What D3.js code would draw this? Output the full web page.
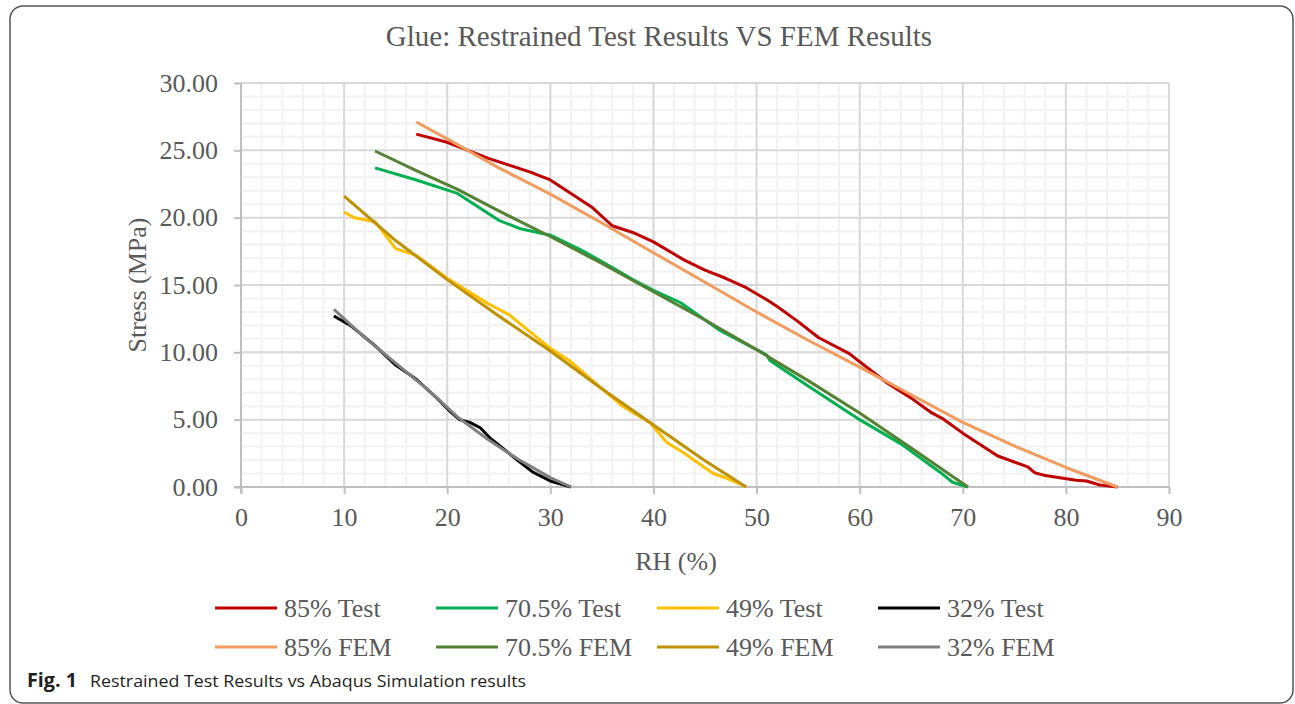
<!DOCTYPE html>
<html>
<head>
<meta charset="utf-8">
<script src="https://cdn.jsdelivr.net/npm/d3@7"></script>
<style>
  body { margin: 0; background: #fff; }
  svg { display: block; }
  .axis text { font-family: "Liberation Serif", "Times New Roman", serif; font-size: 26px; fill: #595959; }
</style>
</head>
<body>
<div id="chart"></div>
<script>
// values: [RH %, stress MPa]
var test85 = [[17,26.2],[20,25.6],[22,25.0],[24,24.4],[26,23.9],[28,23.4],[30,22.8],[32,21.8],[34,20.8],[36,19.4],[38,18.9],[40,18.2],[43,16.85],[45,16.1],[47,15.5],[49,14.8],[51,13.9],[52,13.4],[54,12.3],[56,11.1],[59,9.9],[60,9.3],[62.7,7.7],[65,6.6],[67,5.5],[68,5.1],[70,4.0],[73.4,2.3],[76.3,1.5],[77,1.05],[78,0.85],[81,0.5],[82,0.45],[83.3,0.15],[85,0]]
var test705 = [[13,23.7],[17,22.8],[21,21.8],[25,19.8],[27,19.2],[30,18.7],[33,17.6],[36,16.3],[38,15.4],[40,14.6],[42.6,13.7],[46.5,11.6],[51,9.8],[51.3,9.4],[55,7.5],[60,5.0],[64,3.2],[67.8,1.1],[69,0.35],[70.5,0]]
var test49 = [[10,20.4],[11,20.0],[13,19.7],[15,17.7],[17,17.2],[20,15.5],[24,13.6],[26,12.8],[30,10.3],[32,9.3],[35,7.3],[37,6.0],[39.7,4.75],[41.3,3.3],[43,2.5],[45.8,1.0],[47.1,0.65],[49,0]]
var test32 = [[9,12.7],[10.6,12.0],[13,10.5],[15,9.05],[17,8.0],[19,6.6],[20.3,5.6],[21.2,5.0],[22.2,4.8],[23.2,4.4],[24.2,3.6],[25.5,2.8],[26.8,2.0],[28.3,1.1],[30,0.45],[32,0]]
var fem85 = [[17,27.1],[20,25.85],[25,23.7],[30,21.75],[35,19.6],[40,17.4],[45,15.2],[50,13.0],[55,10.9],[60,8.9],[65,6.85],[70,4.8],[75,3.05],[80,1.45],[85,0]]
var fem705 = [[13,24.95],[17,23.5],[21,22.1],[25,20.5],[30,18.6],[35,16.6],[40,14.5],[45,12.4],[50,10.2],[55,7.9],[60,5.5],[65,2.9],[70.5,0]]
var fem49 = [[10,21.6],[15,18.3],[20,15.4],[25,12.7],[30,10.1],[35,7.3],[40,4.6],[45,1.95],[49,0]]
var fem32 = [[9,13.2],[12,11.1],[15,9.2],[18,7.3],[21,5.2],[24,3.5],[27,2.0],[30,0.7],[32,0]]

var names = ['85% Test', '70.5% Test', '49% Test', '32% Test', '85% FEM', '70.5% FEM', '49% FEM', '32% FEM']
var colors = ['#c00000', '#00b050', '#ffc000', '#000000', '#f19b5e', '#548235', '#bf9000', '#7f7f7f']
var values = [test85, test705, test49, test32, fem85, fem705, fem49, fem32]

var xTicks = d3.range(0, 91, 10)
var yTicks = d3.range(0, 31, 5)

var W = 1295, H = 704
var svg = d3.select('#chart').append('svg').attr('width', W).attr('height', H)

// outer frame
svg.append('rect')
  .attr('x', 10).attr('y', 6).attr('width', 1283).attr('height', 697)
  .attr('rx', 13)
  .attr('fill', 'none').attr('stroke', '#555').attr('stroke-width', 1.5)

var x = d3.scaleLinear().domain([0, 90]).range([241, 1169])
var y = d3.scaleLinear().domain([0, 30]).range([487, 83])

// gridlines, minor then major
var grid = svg.append('g')
grid.selectAll('line.mx').data(d3.range(0, 91, 2)).join('line')
  .attr('x1', d => x(d)).attr('x2', d => x(d)).attr('y1', y(0)).attr('y2', y(30))
  .attr('stroke', '#f2f2f2').attr('stroke-width', 2)
grid.selectAll('line.my').data(d3.range(0, 31, 1)).join('line')
  .attr('x1', x(0)).attr('x2', x(90)).attr('y1', d => y(d)).attr('y2', d => y(d))
  .attr('stroke', '#f2f2f2').attr('stroke-width', 2)
grid.selectAll('line.Mx').data(xTicks).join('line')
  .attr('x1', d => x(d)).attr('x2', d => x(d)).attr('y1', y(0)).attr('y2', y(30))
  .attr('stroke', '#d9d9d9').attr('stroke-width', 2)
grid.selectAll('line.My').data(yTicks).join('line')
  .attr('x1', x(0)).attr('x2', x(90)).attr('y1', d => y(d)).attr('y2', d => y(d))
  .attr('stroke', '#d9d9d9').attr('stroke-width', 2)

var yAxis = svg.append('g').attr('class', 'axis')
  .attr('transform', 'translate(' + x(0) + ',0)')
  .call(d3.axisLeft(y).tickValues(yTicks).tickFormat(d3.format('.2f')).tickSize(7).tickPadding(16))
var xAxis = svg.append('g').attr('class', 'axis')
  .attr('transform', 'translate(0,' + y(0) + ')')
  .call(d3.axisBottom(x).tickValues(xTicks).tickSize(7).tickPadding(14))
svg.selectAll('.axis .domain').attr('stroke', '#bfbfbf').attr('stroke-width', 2)
svg.selectAll('.axis .tick line').attr('stroke', '#bfbfbf').attr('stroke-width', 2)
yAxis.select('.domain').attr('d', 'M0,' + y(30) + 'V' + (y(0) + 7))
xAxis.select('.domain').attr('d', 'M' + (x(0) - 7) + ',0H' + x(90))

var line = d3.line().x(d => x(d[0])).y(d => y(d[1]))
svg.append('g').selectAll('path').data(values).join('path')
  .attr('d', line)
  .attr('fill', 'none')
  .attr('stroke', (d, i) => colors[i])
  .attr('stroke-width', 3)
  .attr('stroke-linejoin', 'round')

var serif = '"Liberation Serif", "Times New Roman", serif'

svg.append('text')
  .attr('x', 659).attr('y', 46)
  .attr('text-anchor', 'middle')
  .style('font-family', serif).style('font-size', '29px').style('fill', '#595959')
  .text('Glue: Restrained Test Results VS FEM Results')

svg.append('text')
  .attr('transform', 'translate(146,285) rotate(-90)')
  .attr('text-anchor', 'middle')
  .style('font-family', serif).style('font-size', '26px').style('fill', '#595959')
  .text('Stress (MPa)')

svg.append('text')
  .attr('x', 676).attr('y', 570)
  .attr('text-anchor', 'middle')
  .style('font-family', serif).style('font-size', '26px').style('fill', '#595959')
  .text('RH (%)')

// legend, 4 columns x 2 rows
var legX = [215, 436, 657, 878]
var legY = [608, 647]
var leg = svg.append('g').selectAll('g').data(names).join('g')
  .attr('transform', (d, i) => 'translate(' + legX[i % 4] + ',' + legY[Math.floor(i / 4)] + ')')
leg.append('line')
  .attr('x1', 0).attr('x2', 62).attr('y1', 0).attr('y2', 0)
  .attr('stroke', (d, i) => colors[i]).attr('stroke-width', 3)
leg.append('text')
  .attr('x', 69).attr('y', 9)
  .style('font-family', serif).style('font-size', '26px').style('fill', '#595959')
  .text(d => d)

// caption
var cap = svg.append('text').attr('x', 27).attr('y', 687)
  .style('font-family', '"Open Sans", "Noto Sans", sans-serif').style('font-size', '17px').style('fill', '#231f20')
cap.append('tspan').style('font-weight', 'bold').style('font-size', '19px').text('Fig. 1')
  .attr('textLength', 50).attr('lengthAdjust', 'spacingAndGlyphs')
cap.append('tspan').attr('x', 90).text('Restrained Test Results vs Abaqus Simulation results')
  .attr('textLength', 436).attr('lengthAdjust', 'spacingAndGlyphs')
</script>
</body>
</html>
